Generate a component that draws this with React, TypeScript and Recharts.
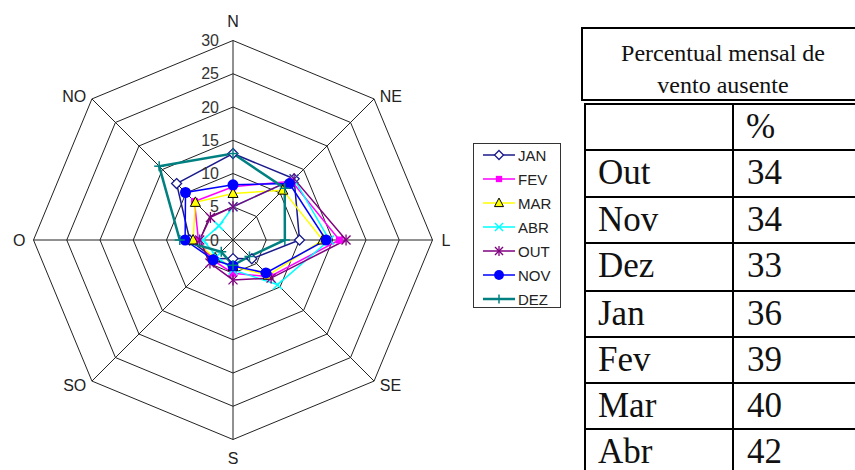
import React from 'react';
import {
  RadarChart,
  Radar,
  PolarGrid,
  PolarAngleAxis,
  PolarRadiusAxis,
  Legend,
} from 'recharts';

// wind directions, clockwise from north
const directions = ['N', 'NE', 'L', 'SE', 'S', 'SO', 'O', 'NO'];

// frequency (%) per direction
const jan = [13, 13, 10, 4, 2.8, 4, 6.5, 12];
const fev = [8, 12.5, 16, 7.8, 5, 4.3, 5.2, 8.2];
const mar = [7, 10.6, 13.5, 7.5, 4, 3.8, 6, 8];
const abr = [5, 13, 14.5, 9.5, 4.5, 3.5, 4.5, 3];
const out = [5, 13, 17, 8.1, 6, 4.9, 5, 4.8];
const nov = [8.3, 12, 14, 7, 3.9, 4.2, 7.2, 10.1];
const dez = [13, 11, 7.8, 3.5, 3.8, 2.5, 8, 15.7];

const radiusTicks = [0, 5, 10, 15, 20, 25, 30];

// table on the right
const tableMonths = ['Out', 'Nov', 'Dez', 'Jan', 'Fev', 'Mar', 'Abr'];
const tablePct = [34, 34, 33, 36, 39, 40, 42];

const data = directions.map((dir, i) => ({
  dir,
  JAN: jan[i],
  FEV: fev[i],
  MAR: mar[i],
  ABR: abr[i],
  OUT: out[i],
  NOV: nov[i],
  DEZ: dez[i],
}));

type Shape = 'diamond' | 'square' | 'triangle' | 'x' | 'star' | 'circle' | 'plus';

const series: { key: string; color: string; shape: Shape; width: number }[] = [
  { key: 'JAN', color: '#1a1a8c', shape: 'diamond', width: 1.5 },
  { key: 'FEV', color: '#ff00ff', shape: 'square', width: 1.5 },
  { key: 'MAR', color: '#ffff00', shape: 'triangle', width: 1.5 },
  { key: 'ABR', color: '#00ffff', shape: 'x', width: 1.5 },
  { key: 'OUT', color: '#800080', shape: 'star', width: 1.5 },
  { key: 'NOV', color: '#0000ff', shape: 'circle', width: 1.5 },
  { key: 'DEZ', color: '#008080', shape: 'plus', width: 2.5 },
];

const FONT = '"Liberation Sans", Arial, sans-serif';
const SERIF = '"Liberation Serif", "Times New Roman", serif';

function Marker({ shape, color, cx, cy, s = 1 }: { shape: Shape; color: string; cx: number; cy: number; s?: number }) {
  switch (shape) {
    case 'diamond':
      return (
        <polygon
          points={`${cx},${cy - 5 * s} ${cx + 5 * s},${cy} ${cx},${cy + 5 * s} ${cx - 5 * s},${cy}`}
          fill="#fff"
          stroke={color}
          strokeWidth={1.3}
        />
      );
    case 'square':
      return <rect x={cx - 3.5 * s} y={cy - 3.5 * s} width={7 * s} height={7 * s} fill={color} />;
    case 'triangle':
      return (
        <polygon
          points={`${cx},${cy - 5.5 * s} ${cx + 5 * s},${cy + 4 * s} ${cx - 5 * s},${cy + 4 * s}`}
          fill={color}
          stroke="#000"
          strokeWidth={1}
        />
      );
    case 'x':
      return (
        <g stroke={color} strokeWidth={1.5}>
          <line x1={cx - 4.5 * s} y1={cy - 4.5 * s} x2={cx + 4.5 * s} y2={cy + 4.5 * s} />
          <line x1={cx - 4.5 * s} y1={cy + 4.5 * s} x2={cx + 4.5 * s} y2={cy - 4.5 * s} />
        </g>
      );
    case 'star':
      return (
        <g stroke={color} strokeWidth={1.3}>
          <line x1={cx - 4.5 * s} y1={cy - 4.5 * s} x2={cx + 4.5 * s} y2={cy + 4.5 * s} />
          <line x1={cx - 4.5 * s} y1={cy + 4.5 * s} x2={cx + 4.5 * s} y2={cy - 4.5 * s} />
          <line x1={cx} y1={cy - 5.5 * s} x2={cx} y2={cy + 5.5 * s} />
        </g>
      );
    case 'circle':
      return <circle cx={cx} cy={cy} r={5.5 * s} fill={color} />;
    case 'plus':
    default:
      return (
        <g stroke={color} strokeWidth={1.5}>
          <line x1={cx - 5 * s} y1={cy} x2={cx + 5 * s} y2={cy} />
          <line x1={cx} y1={cy - 5 * s} x2={cx} y2={cy + 5 * s} />
        </g>
      );
  }
}

// nudges for the compass labels
const labelNudge: Record<string, [number, number]> = {
  N: [0, -11],
  S: [0, 11],
  NE: [0, 3],
  NO: [0, 3],
  SE: [0, -1],
  SO: [0, -1],
  L: [1, 0],
  O: [0, 0],
};

const AngleTick = (props: any) => {
  const { x, y, payload, textAnchor } = props;
  const [dx, dy] = labelNudge[payload.value] ?? [0, 0];
  return (
    <text
      x={x + dx}
      y={y + dy}
      textAnchor={textAnchor}
      dominantBaseline="central"
      fontFamily={FONT}
      fontSize={16}
      fill="#222"
    >
      {payload.value}
    </text>
  );
};

const RadiusTick = (props: any) => {
  const { x, y, payload } = props;
  return (
    <text
      x={x - 14}
      y={y}
      textAnchor="end"
      dominantBaseline="central"
      fontFamily={FONT}
      fontSize={16}
      fill="#333"
    >
      {payload.value}
    </text>
  );
};

const LegendBox = () => (
  <div style={{ width: 88, height: 165, border: '1px solid #333', boxSizing: 'border-box', background: '#fff' }}>
    <svg width={86} height={163}>
      {series.map((s, i) => {
        const y = 11 + i * 24;
        return (
          <g key={s.key}>
            <line x1={9} y1={y} x2={41} y2={y} stroke={s.color} strokeWidth={s.width} />
            <Marker shape={s.shape} color={s.color} cx={25} cy={y} s={0.9} />
            <text x={44} y={y} dominantBaseline="central" fontFamily={FONT} fontSize={15} fill="#222">
              {s.key}
            </text>
          </g>
        );
      })}
    </svg>
  </div>
);

export default function App() {
  const rowTops = [150, 197, 243, 291, 337, 383, 429];
  return (
    <div
      style={{
        position: 'absolute',
        left: 0,
        top: 0,
        width: 855,
        height: 470,
        overflow: 'hidden',
        background: '#fff',
      }}
    >
      <div style={{ position: 'absolute', left: 0, top: 0 }}>
        <RadarChart
          width={570}
          height={470}
          data={data}
          cx={233}
          cy={240}
          outerRadius={199.5}
          margin={{ top: 0, right: 0, bottom: 0, left: 0 }}
        >
          <PolarGrid gridType="polygon" stroke="#222" strokeOpacity={1} />
          <PolarAngleAxis dataKey="dir" tick={AngleTick} tickLine={false} axisLine={false} />
          <PolarRadiusAxis
            angle={90}
            domain={[0, 30]}
            ticks={radiusTicks as any}
            tickCount={7}
            axisLine={false}
            tick={RadiusTick}
          />
          {series.map((s) => (
            <Radar
              key={s.key}
              name={s.key}
              dataKey={s.key}
              stroke={s.color}
              strokeWidth={s.width}
              fill="none"
              fillOpacity={0}
              isAnimationActive={false}
              dot={(p: any) => (
                <Marker key={`${s.key}-${p.index}`} shape={s.shape} color={s.color} cx={p.cx} cy={p.cy} />
              )}
            />
          ))}
          <Legend
            layout="vertical"
            align="right"
            verticalAlign="middle"
            wrapperStyle={{ left: 473, top: 143, width: 88 }}
            content={() => <LegendBox />}
          />
        </RadarChart>
      </div>

      {/* title box */}
      <div
        style={{
          position: 'absolute',
          left: 581,
          top: 27,
          width: 284,
          height: 74,
          border: '2px solid #000',
          boxSizing: 'border-box',
          paddingTop: 8,
          textAlign: 'center',
          fontFamily: SERIF,
          fontSize: 24,
          lineHeight: '32px',
          color: '#111',
        }}
      >
        Percentual mensal de
        <br />
        vento ausente
      </div>

      {/* table */}
      <div
        style={{
          position: 'absolute',
          left: 584,
          top: 103,
          width: 290,
          height: 380,
          borderLeft: '2px solid #000',
          borderTop: '2px solid #000',
          boxSizing: 'border-box',
        }}
      />
      <div style={{ position: 'absolute', left: 732, top: 103, width: 2, height: 380, background: '#000' }} />
      <div
        style={{
          position: 'absolute',
          left: 746,
          top: 103,
          height: 47,
          lineHeight: '47px',
          fontFamily: SERIF,
          fontSize: 35,
          color: '#111',
        }}
      >
        %
      </div>
      {tableMonths.map((m, i) => (
        <React.Fragment key={m}>
          <div style={{ position: 'absolute', left: 584, top: rowTops[i] - 1, width: 290, height: 2, background: '#000' }} />
          <div
            style={{
              position: 'absolute',
              left: 598,
              top: rowTops[i] + 5,
              lineHeight: '35px',
              fontFamily: SERIF,
              fontSize: 35,
              color: '#111',
            }}
          >
            {m}
          </div>
          <div
            style={{
              position: 'absolute',
              left: 747,
              top: rowTops[i] + 5,
              lineHeight: '35px',
              fontFamily: SERIF,
              fontSize: 35,
              color: '#111',
            }}
          >
            {tablePct[i]}
          </div>
        </React.Fragment>
      ))}
    </div>
  );
}
